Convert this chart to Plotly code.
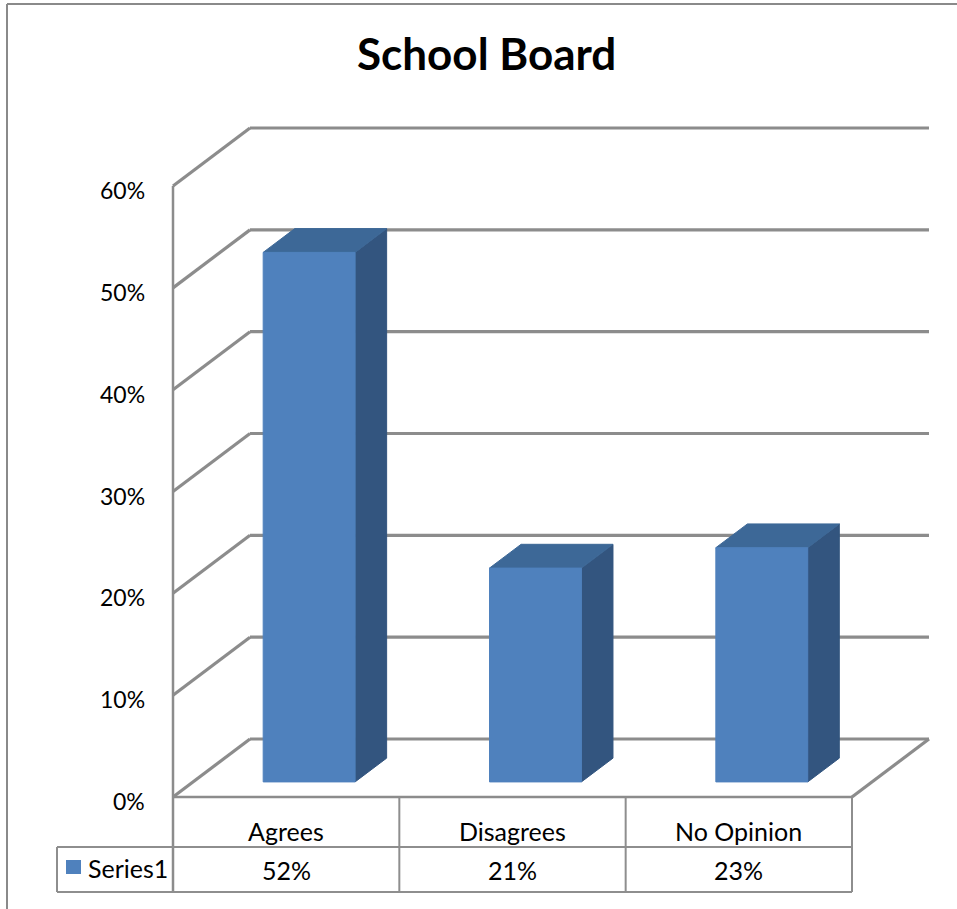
import plotly.graph_objects as go

# ---------------- data ----------------
categories = ["Agrees", "Disagrees", "No Opinion"]
values = [52, 21, 23]               # percent
series_name = "Series1"
tick_values = [0, 10, 20, 30, 40, 50, 60]
tick_labels = ["0%", "10%", "20%", "30%", "40%", "50%", "60%"]
title_text = "School Board"

# ---------------- geometry (layout only) ----------------
W, H = 957, 909
X0_PX = 173.0        # pixel of front-left floor corner (category edge -0.5)
UNIT_PX = 226.33     # pixels per category slot
Y0_PX = 797.0        # pixel of 0% on the front plane
PCT_PX = 10.183      # pixels per percent
DX = 77.0 / UNIT_PX  # depth offset in x units
DY = 58.0 / PCT_PX   # depth offset in y units
F0, F1 = 0.26, 0.67  # bar depth fractions
BL, BR = -0.19, 0.216  # bar extents around category centre
YMAX = tick_values[-1]

def px_x(px):
    return (px - X0_PX) / UNIT_PX - 0.5

def px_y(py):
    return (Y0_PX - py) / PCT_PX

x_range = [px_x(0), px_x(W)]
y_range = [px_y(H), px_y(0)]

GRID = "#8C8C8C"
FRONT = "#4F81BD"
TOP = "#3D6897"
SIDE = "#33557F"
FONT = "Lato"

fig = go.Figure()
shapes = []

def line(x0, y0, x1, y1, color=GRID, width=3.2, layer="below"):
    shapes.append(dict(type="line", xref="x", yref="y", x0=x0, y0=y0, x1=x1, y1=y1,
                       line=dict(color=color, width=width), layer=layer))

nc = len(categories)
left_edge = -0.5
right_edge = nc - 0.5

# back wall gridlines and left wall diagonals
for t in tick_values:
    line(left_edge + DX, t + DY, right_edge + DX, t + DY)
    line(left_edge, t, left_edge + DX, t + DY)
# front left axis edge (continues down as table border)
table_row = px_y(847)
table_bot = px_y(892)
legend_left = px_x(57)
line(left_edge, YMAX, left_edge, table_bot, width=2.5)
# floor front edge / table top and right floor diagonal
line(left_edge, 0, right_edge, 0, width=2.5)
line(right_edge, 0, right_edge + DX, DY)

# table lines
TL = "#8E8E8E"
line(legend_left, table_row, right_edge, table_row, color=TL, width=2)
line(legend_left, table_bot, right_edge, table_bot, color=TL, width=2)
line(legend_left, table_row, legend_left, table_bot, color=TL, width=2)
for k in range(nc):
    line(k + 0.5, 0, k + 0.5, table_bot, color=TL, width=2)

# bars (3D prisms)
for i, v in enumerate(values):
    xl, xr = i + BL, i + BR
    a0x, a0y = F0 * DX, F0 * DY
    a1x, a1y = F1 * DX, F1 * DY
    side_x = [xr + a0x, xr + a1x, xr + a1x, xr + a0x, xr + a0x]
    side_y = [a0y, a1y, v + a1y, v + a0y, a0y]
    top_x = [xl + a0x, xr + a0x, xr + a1x, xl + a1x, xl + a0x]
    top_y = [v + a0y, v + a0y, v + a1y, v + a1y, v + a0y]
    front_x = [xl + a0x, xr + a0x, xr + a0x, xl + a0x, xl + a0x]
    front_y = [a0y, a0y, v + a0y, v + a0y, a0y]
    for xs, ys, col in ((side_x, side_y, SIDE), (top_x, top_y, TOP), (front_x, front_y, FRONT)):
        fig.add_trace(go.Scatter(x=xs, y=ys, mode="lines", fill="toself",
                                 fillcolor=col, line=dict(color=col, width=1),
                                 hoverinfo="skip", showlegend=False, name=series_name))

annotations = []
# y tick labels (front plane)
for t, lab in zip(tick_values, tick_labels):
    annotations.append(dict(x=left_edge, y=t, xref="x", yref="y", text=lab, showarrow=False,
                            font=dict(family=FONT, size=23, color="black"),
                            xanchor="right", yanchor="middle", xshift=-26, yshift=-4))
# table texts
for i, (c, v) in enumerate(zip(categories, values)):
    annotations.append(dict(x=i, y=px_y(831), xref="x", yref="y", text=c, showarrow=False,
                            font=dict(family=FONT, size=25, color="black"),
                            xanchor="center", yanchor="middle"))
    annotations.append(dict(x=i, y=px_y(870), xref="x", yref="y", text=f"{v}%", showarrow=False,
                            font=dict(family=FONT, size=25, color="black"),
                            xanchor="center", yanchor="middle"))
annotations.append(dict(x=px_x(86), y=px_y(868), xref="x", yref="y", text=series_name,
                        showarrow=False, font=dict(family=FONT, size=25, color="black"),
                        xanchor="left", yanchor="middle"))
# legend key
shapes.append(dict(type="rect", xref="x", yref="y", x0=px_x(66), x1=px_x(81),
                   y0=px_y(874), y1=px_y(860), fillcolor=FRONT, line=dict(width=0)))
# title
annotations.append(dict(x=px_x(486), y=px_y(53), xref="x", yref="y", text=f"<b>{title_text}</b>",
                        showarrow=False, font=dict(family=FONT, size=44, color="black"),
                        xanchor="center", yanchor="middle"))
# outer border (top and left)
shapes.append(dict(type="line", xref="paper", yref="paper", x0=7 / W, x1=1, y0=1 - 4 / H, y1=1 - 4 / H,
                   line=dict(color="#8A8A8A", width=2)))
shapes.append(dict(type="line", xref="paper", yref="paper", x0=7 / W, x1=7 / W, y0=0, y1=1 - 4 / H,
                   line=dict(color="#8A8A8A", width=2)))

fig.update_layout(
    width=W, height=H,
    margin=dict(l=0, r=0, t=0, b=0),
    paper_bgcolor="white", plot_bgcolor="white",
    shapes=shapes, annotations=annotations,
    showlegend=False,
    xaxis=dict(range=x_range, visible=False, fixedrange=True),
    yaxis=dict(range=y_range, visible=False, fixedrange=True),
)

fig.write_html("out.html", config={"displayModeBar": False},
               post_script="document.body.style.margin='0';document.body.style.overflow='hidden';")
